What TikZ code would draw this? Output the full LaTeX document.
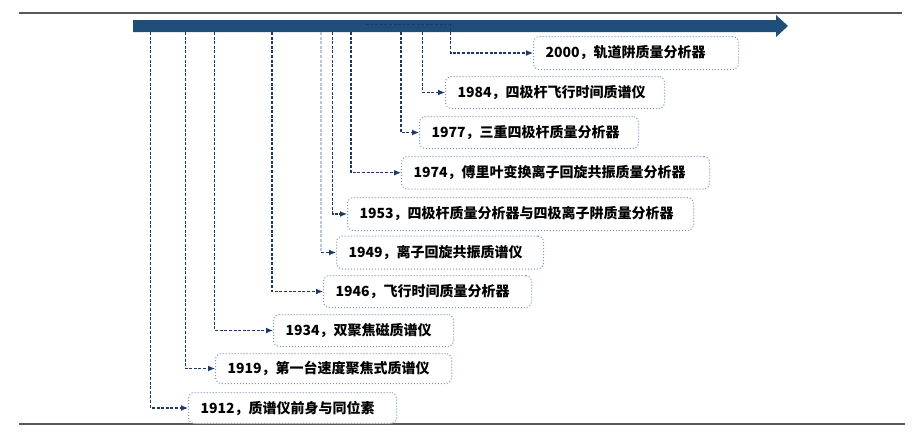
\documentclass[tikz,border=0pt]{standalone}
\usepackage{fontspec}
\setmainfont{Noto Sans CJK SC}
\usetikzlibrary{arrows.meta}

\definecolor{barblue}{HTML}{1F4E79}
\definecolor{linknavy}{HTML}{1F3864}
\definecolor{linklight}{HTML}{B9C6DA}
\definecolor{boxedge}{HTML}{7896BE}
\definecolor{rulegrey}{HTML}{595959}

\tikzset{
  event/.style={draw=boxedge, dotted, line width=1pt, rounded corners=6pt,
    fill=white, anchor=north west, inner xsep=12pt, inner ysep=0pt,
    align=left, font=\fontsize{14}{16}\selectfont\bfseries},
  link/.style={draw=linknavy, line width=1.2pt, dash pattern=on 3pt off 1.6pt,
    -{Latex[length=7pt,width=6pt]}},
  faintlink/.style={draw=linklight, line width=1.2pt, dash pattern=on 3pt off 1.6pt},
  rulebar/.style={draw=rulegrey, line width=2.5pt},
}

\begin{document}
\begin{tikzpicture}[x=1pt, y=-1pt]
\useasboundingbox (0,0) rectangle (918,432);

% horizontal rules framing the chart
\draw[rulebar] (19,13) coordinate (rt0) -- (902,13) coordinate (rt1);
\draw[rulebar] (19,424) coordinate (rb0) -- (905,424) coordinate (rb1);

% timeline arrow
\fill[barblue] (133,20) -- (776,20) -- (776,15) -- (788,26) -- (776,37)
  -- (776,32) -- (133,32) -- cycle;

% milestone boxes
\node[event, minimum height=33pt, text width=181pt] (e2000) at (533,36)  {2000，轨道阱质量分析器};
\node[event, minimum height=32pt, text width=195pt] (e1984) at (445,76)  {1984，四极杆飞行时间质谱仪};
\node[event, minimum height=32pt, text width=195pt] (e1977) at (419,116) {1977，三重四极杆质量分析器};
\node[event, minimum height=32.5pt, text width=284pt] (e1974) at (401,156) {1974，傅里叶变换离子回旋共振质量分析器};
\node[event, minimum height=33pt, text width=322pt] (e1953) at (347,197) {1953，四极杆质量分析器与四极离子阱质量分析器};
\node[event, minimum height=33pt, text width=183pt] (e1949) at (336,235.5) {1949，离子回旋共振质谱仪};
\node[event, minimum height=32pt, text width=184pt] (e1946) at (323,275) {1946，飞行时间质量分析器};
\node[event, minimum height=32pt, text width=156pt] (e1934) at (273,314) {1934，双聚焦磁质谱仪};
\node[event, minimum height=30pt, text width=212pt] (e1919) at (215,353) {1919，第一台速度聚焦式质谱仪};
\node[event, minimum height=31pt, text width=184pt] (e1912) at (188,392) {1912，质谱仪前身与同位素};

% connector origins on the timeline
\coordinate (t1912) at (150.7,32);
\coordinate (t1919) at (185.3,32);
\coordinate (t1934) at (214.7,32);
\coordinate (t1946) at (272,32);
\coordinate (t1949) at (321,32);
\coordinate (t1953) at (332.7,32);
\coordinate (t1974) at (351,32);
\coordinate (t1977) at (401,32);
\coordinate (t1984) at (422.7,32);
\coordinate (t2000) at (366,24.7);
\coordinate (k2000) at (450.5,24.7);

% connectors
\draw[link] (t1912) |- (e1912.west);
\draw[link] (t1919) |- (e1919.west);
\draw[link] (t1934) |- (e1934.west);
\draw[link] (t1946) |- (e1946.west);
\draw[faintlink] (t1949) -- (t1949 |- e1949.west);
\draw[link] (t1949 |- e1949.west) -- (e1949.west);
\draw[link] (t1953) |- (e1953.west);
\draw[link] (t1974) |- (e1974.west);
\draw[link] (t1977) |- (e1977.west);
\draw[link] (t1984) |- (e1984.west);
\draw[link] (t2000) -- (k2000) |- (e2000.west);
\end{tikzpicture}
\end{document}
